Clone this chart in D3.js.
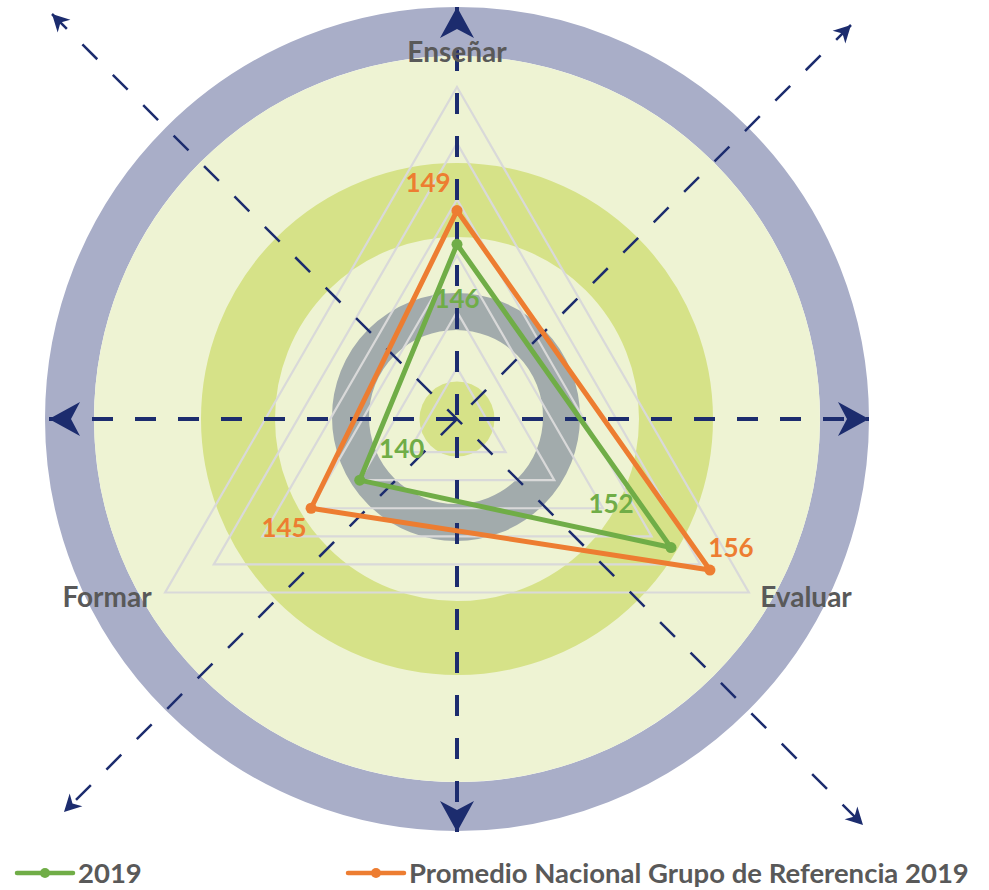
<!DOCTYPE html>
<html>
<head>
<meta charset="utf-8">
<script src="https://cdn.jsdelivr.net/npm/d3@7"></script>
<style>
  html, body { margin: 0; padding: 0; background: #fff; }
  svg { display: block; }
  text { font-family: Lato, "Open Sans", sans-serif; font-weight: bold; }
</style>
</head>
<body>
<svg id="chart" width="989" height="890"></svg>
<script>
// data
const axes = ["Enseñar", "Evaluar", "Formar"];
const values2019 = [146, 152, 140];
const valuesProm = [149, 156, 145];
const levels = [135, 140, 145, 150, 155, 160];
const seriesNames = ["2019", "Promedio Nacional Grupo de Referencia 2019"];

const green = "#70ad47";
const orange = "#ed7d31";
const navy = "#1c2c6e";
const labelGray = "#595959";

const svg = d3.select("#chart");

// crosshair center and radar center are slightly different
const cx = 457, cy = 419;
const rx = 457, ry = 424;

const r = d3.scaleLinear().domain([130, 160]).range([0, 337]);
const angle = d3.scaleOrdinal().domain(axes).range([0, 2 * Math.PI / 3, 4 * Math.PI / 3]);

function pt(a, v) {
  const ang = angle(a);
  return [rx + r(v) * Math.sin(ang), ry - r(v) * Math.cos(ang)];
}

// background rings
const bg = svg.append("g");
bg.append("circle").attr("cx", cx).attr("cy", cy).attr("r", 387.5)
  .attr("fill", "none").attr("stroke", "#a9aec8").attr("stroke-width", 49);
bg.append("circle").attr("cx", cx).attr("cy", cy).attr("r", 363).attr("fill", "#eef3d3");
bg.append("circle").attr("cx", cx).attr("cy", cy).attr("r", 219)
  .attr("fill", "none").attr("stroke", "#d6e288").attr("stroke-width", 74);
bg.append("circle").attr("cx", cx - 1).attr("cy", cy - 2).attr("r", 105.5)
  .attr("fill", "none").attr("stroke", "#a2abac").attr("stroke-width", 37);
bg.append("circle").attr("cx", cx).attr("cy", cy).attr("r", 37.5).attr("fill", "#d6e288");

// triangular grid
const grid = svg.append("g");
levels.forEach(l => {
  grid.append("path")
    .attr("d", d3.line()(axes.map(a => pt(a, l))) + "Z")
    .attr("fill", "none")
    .attr("stroke", "#d9d9d9")
    .attr("stroke-width", 2.2);
});

// arrow markers
const defs = svg.append("defs");
defs.append("marker").attr("id", "bigArrow")
  .attr("markerUnits", "userSpaceOnUse")
  .attr("viewBox", "-32 -18 34 36")
  .attr("refX", 0).attr("refY", 0)
  .attr("markerWidth", 34).attr("markerHeight", 36)
  .attr("orient", "auto")
  .append("path").attr("d", "M0,0 L-31,-17 L-22,0 L-31,17 Z").attr("fill", navy);
defs.append("marker").attr("id", "smallArrow")
  .attr("markerUnits", "userSpaceOnUse")
  .attr("viewBox", "-18 -10 20 20")
  .attr("refX", 0).attr("refY", 0)
  .attr("markerWidth", 20).attr("markerHeight", 20)
  .attr("orient", "auto")
  .append("path").attr("d", "M0,0 L-17,-9 L-12,0 L-17,9 Z").attr("fill", navy);

// dashed axes through the crosshair
const ax = svg.append("g");
function dashedArrow(x1, y1, x2, y2, w, marker) {
  ax.append("line")
    .attr("x1", x1).attr("y1", y1).attr("x2", x2).attr("y2", y2)
    .attr("stroke", navy).attr("stroke-width", w)
    .attr("stroke-dasharray", "21,22");
  const len = Math.hypot(x2 - x1, y2 - y1);
  const ux = (x2 - x1) / len, uy = (y2 - y1) / len;
  // invisible short segments to carry the arrowheads
  ax.append("line")
    .attr("x1", x2 - ux * 10).attr("y1", y2 - uy * 10)
    .attr("x2", x2).attr("y2", y2)
    .attr("stroke", "none")
    .attr("marker-end", `url(#${marker})`);
  ax.append("line")
    .attr("x1", x1 + ux * 10).attr("y1", y1 + uy * 10)
    .attr("x2", x1).attr("y2", y1)
    .attr("stroke", "none")
    .attr("marker-end", `url(#${marker})`);
}
dashedArrow(49, cy, 869, cy, 4, "bigArrow");
dashedArrow(cx, 7, cx, 832, 4, "bigArrow");
dashedArrow(52, 14, 863, 825, 2.5, "smallArrow");
dashedArrow(851, 25, 64, 812, 2.5, "smallArrow");

// series
const lineGen = d3.lineRadial()
  .angle(d => angle(d.axis))
  .radius(d => r(d.value))
  .curve(d3.curveLinearClosed);

const series = [
  { name: seriesNames[1], color: orange, values: valuesProm, offsets: [[-29, -17], [21, -12], [-27, 30]] },
  { name: seriesNames[0], color: green, values: values2019, offsets: [[0, 65], [-60, -33], [42, -21]] }
];

const plot = svg.append("g").attr("transform", `translate(${rx},${ry})`);
series.forEach(s => {
  const rows = axes.map((a, i) => ({ axis: a, value: s.values[i] }));
  plot.append("path")
    .attr("d", lineGen(rows))
    .attr("fill", "none")
    .attr("stroke", s.color)
    .attr("stroke-width", 5)
    .attr("stroke-linejoin", "round");
  plot.selectAll(null).data(rows).enter().append("circle")
    .attr("cx", d => r(d.value) * Math.sin(angle(d.axis)))
    .attr("cy", d => -r(d.value) * Math.cos(angle(d.axis)))
    .attr("r", 5.5)
    .attr("fill", s.color);
});

// data labels
series.forEach(s => {
  axes.forEach((a, i) => {
    const [x, y] = pt(a, s.values[i]);
    svg.append("text")
      .attr("x", x + s.offsets[i][0])
      .attr("y", y + s.offsets[i][1] - 8)
      .attr("text-anchor", "middle")
      .attr("dominant-baseline", "middle")
      .style("font-size", "26px")
      .style("fill", s.color)
      .text(s.values[i]);
  });
});

// axis labels
const axisLabelPos = { "Enseñar": [457, 62], "Evaluar": [806, 607], "Formar": [107, 607] };
axes.forEach(a => {
  svg.append("text")
    .attr("x", axisLabelPos[a][0])
    .attr("y", axisLabelPos[a][1])
    .attr("text-anchor", "middle")
    .style("font-size", "28px")
    .style("fill", labelGray)
    .text(a);
});

// legend
const legend = [
  { name: seriesNames[0], color: green, x: 17 },
  { name: seriesNames[1], color: orange, x: 348 }
];
legend.forEach(l => {
  const g = svg.append("g");
  g.append("line")
    .attr("x1", l.x).attr("x2", l.x + 56)
    .attr("y1", 873).attr("y2", 873)
    .attr("stroke", l.color).attr("stroke-width", 4.5).attr("stroke-linecap", "round");
  g.append("circle").attr("cx", l.x + 28).attr("cy", 873).attr("r", 5).attr("fill", l.color);
  g.append("text")
    .attr("x", l.x + 61).attr("y", 883)
    .style("font-size", "27.5px")
    .style("fill", labelGray)
    .text(l.name);
});
</script>
</body>
</html>
